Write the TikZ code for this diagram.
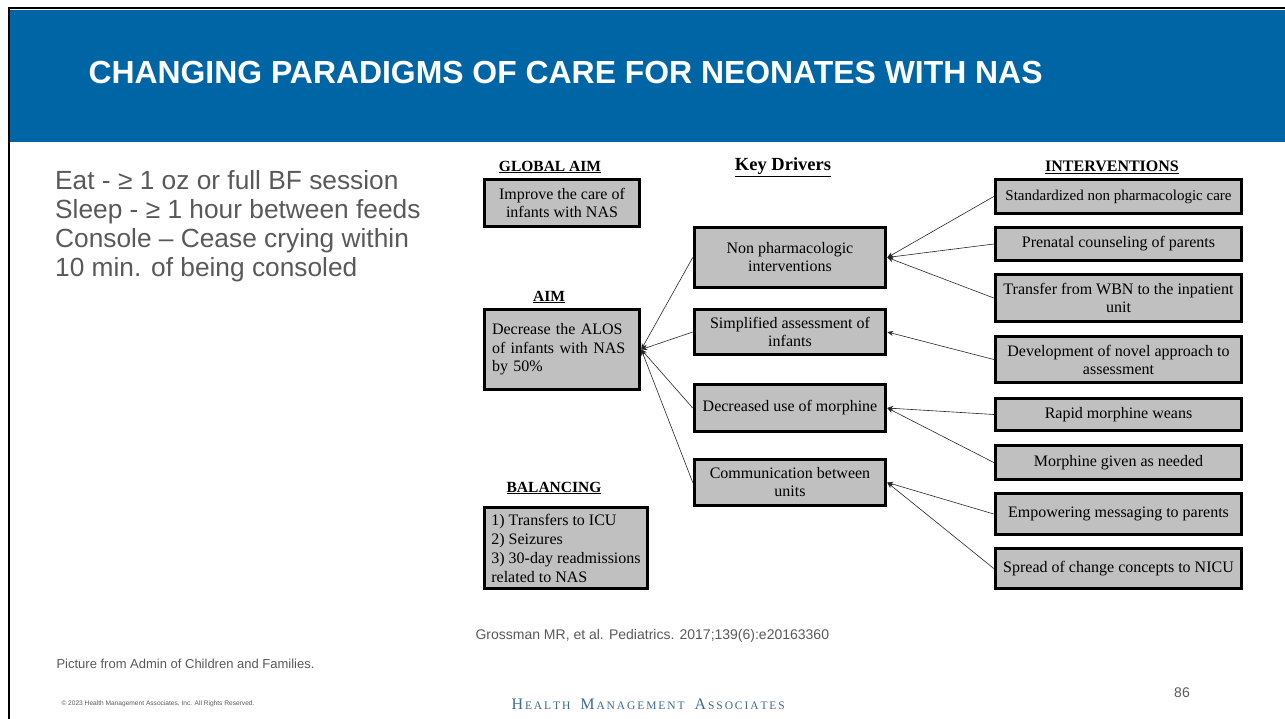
\documentclass[tikz,border=0pt]{standalone}
\usepackage{fontspec}
\setmainfont{Liberation Serif}
\newfontfamily\arialfont{Liberation Sans}
\usepackage{tikz}
\usetikzlibrary{arrows.meta,positioning}
\usepackage{xcolor}
\definecolor{hmablue}{RGB}{0,101,164}
\definecolor{boxgray}{RGB}{192,192,192}
\definecolor{textgray}{RGB}{89,89,89}
\definecolor{logoblue}{RGB}{62,105,145}

\newcommand{\hmalogo}{{\fontsize{16}{16}\selectfont H}{\fontsize{11.5}{12}\selectfont\,E\,A\,L\,T\,H}\hspace{10pt}{\fontsize{16}{16}\selectfont M}{\fontsize{11.5}{12}\selectfont\,A\,N\,A\,G\,E\,M\,E\,N\,T}\hspace{10pt}{\fontsize{16}{16}\selectfont A}{\fontsize{11.5}{12}\selectfont\,S\,S\,O\,C\,I\,A\,T\,E\,S}}

\begin{document}
\begin{tikzpicture}[
        x=1pt, y=-1pt,
        box/.style={draw, rectangle, fill=boxgray, line width=3.5pt, align=center, inner sep=0pt, font=\fontsize{16}{18}\selectfont},
        drv/.style={box, minimum width=191},
        intv/.style={box, minimum width=246},
        head/.style={font=\fontsize{15.5}{17}\selectfont\bfseries},
        arrow/.style={-{Stealth[length=6pt, width=5pt]}, line width=0.6pt, draw=black!85}
    ]
        \useasboundingbox (0,0) rectangle (1285,719);
        \fill[hmablue] (10,10) rectangle (1285,142);
        \draw[line width=1.5pt] (9,719) -- (9,8) -- (1285,8);
        \node[anchor=west, text=white, font=\arialfont\fontsize{31.9}{33}\selectfont\bfseries] (title) at (85,73) {CHANGING PARADIGMS OF CARE FOR NEONATES WITH NAS};

        \node[anchor=north west, align=left, inner sep=0pt, text=textgray, font=\arialfont\fontsize{26.3}{29}\selectfont] (ease) at (55,170) {Eat - ≥ 1 oz or full BF session\\Sleep - ≥ 1 hour between feeds\\Console – Cease crying within\\10 min. of being consoled};

        \node[head] (globalhd) at (550,167) {\underline{GLOBAL AIM}};
        \node[box, minimum width=155, minimum height=47] (global) at (562,203) {Improve the care of\\infants with NAS};
        \node[head] (aimhd) at (549,297) {\underline{AIM}};
        \node[box, minimum width=155, minimum height=80, text width=140, align=left, font=\fontsize{16}{18.5}\selectfont] (aim) at (562,349.5) {Decrease the ALOS\\of infants with NAS\\by 50\%};
        \node[head] (balhd) at (554,488) {\underline{BALANCING}};
        \node[box, minimum width=163, minimum height=81, align=left, font=\fontsize{16}{19}\selectfont] (bal) at (566,548) {1) Transfers to ICU\\2) Seizures\\3) 30-day readmissions\\related to NAS};

        \node[head, font=\fontsize{18.5}{20}\selectfont\bfseries] (drvhd) at (783,167) {\underline{Key Drivers}};
        \node[drv, minimum height=60] (nonpharm) at (790,257.5) {Non pharmacologic\\interventions};
        \node[drv, minimum height=45] (assess) at (790,332) {Simplified assessment of\\infants};
        \node[drv, minimum height=47] (morph) at (790,408) {Decreased use of morphine};
        \node[drv, minimum height=46] (comm) at (790,482.5) {Communication between\\units};

        \node[head, font=\fontsize{16}{17}\selectfont\bfseries] (intvhd) at (1112,167) {\underline{INTERVENTIONS}};
        \node[intv, minimum height=34, font=\fontsize{15}{17}\selectfont] (stdcare) at (1118.5,196.5) {Standardized non pharmacologic care};
        \node[intv, minimum height=33] (prenatal) at (1118.5,244) {Prenatal counseling of parents};
        \node[intv, minimum height=47] (transfer) at (1118.5,298) {Transfer from WBN to the inpatient\\unit};
        \node[intv, minimum height=46] (novel) at (1118.5,359.5) {Development of novel approach to\\assessment};
        \node[intv, minimum height=32] (weans) at (1118.5,414.5) {Rapid morphine weans};
        \node[intv, minimum height=34] (asneeded) at (1118.5,462.5) {Morphine given as needed};
        \node[intv, minimum height=41] (empower) at (1118.5,514) {Empowering messaging to parents};
        \node[intv, minimum height=40] (spread) at (1118.5,568.5) {Spread of change concepts to NICU};

        \draw[arrow] (nonpharm.west) -- (aim.east);
        \draw[arrow] (assess.west) -- (aim.east);
        \draw[arrow] (morph.west) -- (aim.east);
        \draw[arrow] (comm.west) -- (aim.east);
        \draw[arrow] (stdcare.west) -- (nonpharm.east);
        \draw[arrow] (prenatal.west) -- (nonpharm.east);
        \draw[arrow] (transfer.west) -- (nonpharm.east);
        \draw[arrow] (novel.west) -- (assess.east);
        \draw[arrow] (weans.west) -- (morph.east);
        \draw[arrow] (asneeded.west) -- (morph.east);
        \draw[arrow] (empower.west) -- (comm.east);
        \draw[arrow] (spread.west) -- (comm.east);

        \node[anchor=west, text=textgray, font=\arialfont\fontsize{14}{16}\selectfont] (cite) at (472,636) {Grossman MR, et al. Pediatrics. 2017;139(6):e20163360};
        \node[anchor=west, text=textgray, font=\arialfont\fontsize{13}{15}\selectfont] (picsrc) at (53,664) {Picture from Admin of Children and Families.};
        \node[anchor=west, text=textgray, font=\arialfont\fontsize{6.6}{8}\selectfont] (copy) at (58,704) {© 2023 Health Management Associates, Inc. All Rights Reserved.};
        \node[anchor=west, text=logoblue] (logo) at (508,704) {\hmalogo};
        \node[text=textgray, font=\arialfont\fontsize{14}{16}\selectfont] (pageno) at (1182,693) {86};
    \end{tikzpicture}
\end{document}
